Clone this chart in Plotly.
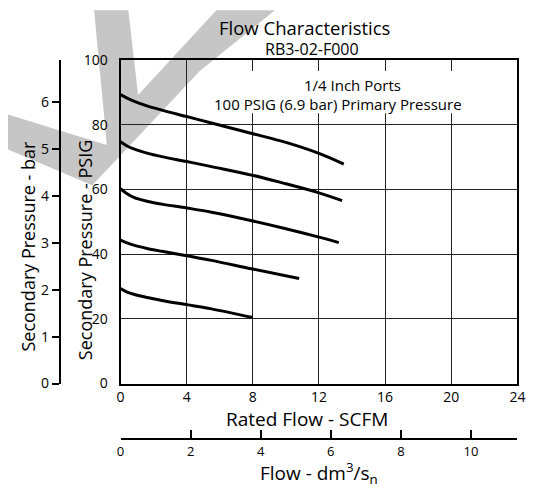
import plotly.graph_objects as go

W, H = 535, 498
OFF = 8  # page body margin offset

# ---- data ----
flow_1 = [0, 0.4, 0.8, 1.6, 2.5, 4, 5.5, 8, 10, 12, 13.5]
psig_1 = [89.4, 88.3, 87.4, 85.9, 84.6, 82.6, 80.6, 77.3, 74.6, 71.2, 67.9]
flow_2 = [0, 0.4, 0.8, 1.6, 2.5, 4, 5.5, 8, 10, 12, 13.4]
psig_2 = [74.8, 73.5, 72.6, 71.3, 70.2, 68.7, 67.1, 64.4, 61.8, 59.0, 56.6]
flow_3 = [0, 0.4, 0.8, 1.6, 2.5, 4, 5.5, 8, 10, 12, 13.2]
psig_3 = [60.3, 58.7, 57.6, 56.4, 55.5, 54.3, 53.0, 50.3, 47.9, 45.3, 43.6]
flow_4 = [0, 0.4, 0.8, 1.6, 2.5, 4, 5.5, 8, 10.8]
psig_4 = [44.4, 43.5, 42.8, 41.8, 40.9, 39.5, 38.1, 35.4, 32.5]
flow_5 = [0, 0.4, 0.8, 1.6, 2.5, 4, 5.5, 8]
psig_5 = [29.4, 28.3, 27.6, 26.6, 25.7, 24.4, 23.1, 20.4]

scfm_ticks = [0, 4, 8, 12, 16, 20, 24]
psig_ticks = [0, 20, 40, 60, 80, 100]
bar_ticks = [0, 1, 2, 3, 4, 5, 6]
dm3s_ticks = [0, 2, 4, 6, 8, 10]

SCFM_MAX = 24
PSIG_MAX = 100
PSI_PER_BAR = 14.5038
SCFM_TO_DM3S = 0.4719

FONT = "Open Sans"


def px(x):
    return (x - OFF) / W


def py(y):
    return 1 - (y - OFF) / H


fig = go.Figure()
for fx, fy in [(flow_1, psig_1), (flow_2, psig_2), (flow_3, psig_3),
               (flow_4, psig_4), (flow_5, psig_5)]:
    fig.add_trace(go.Scatter(x=fx, y=fy, mode="lines",
                             line=dict(color="black", width=3, shape="spline", smoothing=1.0),
                             showlegend=False, hoverinfo="skip"))

xdom = [px(119), px(525)]
ydom = [py(388), py(52)]

fig.update_layout(
    width=W, height=H,
    margin=dict(l=0, r=0, t=0, b=0),
    paper_bgcolor="white",
    plot_bgcolor="rgba(0,0,0,0)",
    font=dict(family=FONT, color="black"),
    showlegend=False,
    xaxis=dict(domain=xdom, range=[0, SCFM_MAX], tickvals=scfm_ticks,
               showgrid=True, gridcolor="#222", gridwidth=1, zeroline=False,
               showline=True, linecolor="black", linewidth=2, mirror=True,
               ticks="", tickfont=dict(size=14), ticklabelstandoff=0, anchor="y"),
    yaxis=dict(domain=ydom, range=[0, PSIG_MAX], tickvals=psig_ticks,
               showgrid=True, gridcolor="#222", gridwidth=1, zeroline=False,
               showline=True, linecolor="black", linewidth=2, mirror=True,
               ticks="", tickfont=dict(size=14), ticklabelstandoff=8, anchor="x"),
    xaxis2=dict(overlaying="x", anchor="free", position=py(446), side="bottom",
                range=[0, SCFM_MAX * SCFM_TO_DM3S], tickvals=dm3s_ticks,
                showgrid=False, zeroline=False, showline=True, linecolor="black",
                linewidth=2, ticks="inside", ticklen=8, tickwidth=1.5, tickcolor="black",
                tickfont=dict(size=13)),
    yaxis2=dict(overlaying="y", anchor="free", position=px(57), side="left",
                range=[0, PSIG_MAX / PSI_PER_BAR], tickvals=bar_ticks,
                showgrid=False, zeroline=False, showline=True, linecolor="black",
                linewidth=2, ticks="outside", ticklen=7, tickwidth=1.5, tickcolor="black",
                tickfont=dict(size=14)),
)

# invisible anchor trace so the secondary axes render
fig.add_trace(go.Scatter(x=[0], y=[0], xaxis="x2", yaxis="y2", mode="markers",
                         marker=dict(opacity=0), showlegend=False, hoverinfo="skip"))

# watermark
wm = [(92, 0), (127, 0), (137, 88), (217, 0), (277, 0), (200, 63), (117, 153),
      (90, 182), (0, 143), (0, 107), (105, 140)]
path = "M " + " L ".join(f"{px(a):.4f},{py(b):.4f}" for a, b in wm) + " Z"
fig.add_shape(type="path", path=path, xref="paper", yref="paper",
              fillcolor="#c6c6c6", line=dict(width=0), layer="below")

# white box behind the inner labels
fig.add_shape(type="rect", xref="paper", yref="paper",
              x0=px(213), x1=px(470), y0=py(107), y1=py(63),
              fillcolor="white", line=dict(width=0), layer="above")


def ann(text, x, y, size, angle=0):
    fig.add_annotation(text=text, x=px(x), y=py(y), xref="paper", yref="paper",
                       showarrow=False, xanchor="center", yanchor="middle",
                       textangle=angle, font=dict(size=size, family=FONT, color="black"))


ann("Flow Characteristics", 307, 18, 18.5)
ann("RB3-02-F000", 315, 40, 16)
ann("1/4 Inch Ports", 356, 78, 15)
ann("100 PSIG (6.9 bar) Primary Pressure", 341, 97, 15)
ann("Secondary Pressure - bar", 24, 245, 18, -90)
ann("Secondary Pressure - PSIG", 82, 249, 18, -90)
ann("Rated Flow - SCFM", 310, 425, 19)
ann("Flow - dm<sup>3</sup>/s<sub>n</sub>", 322, 481, 19)

fig.write_html("out.html")
